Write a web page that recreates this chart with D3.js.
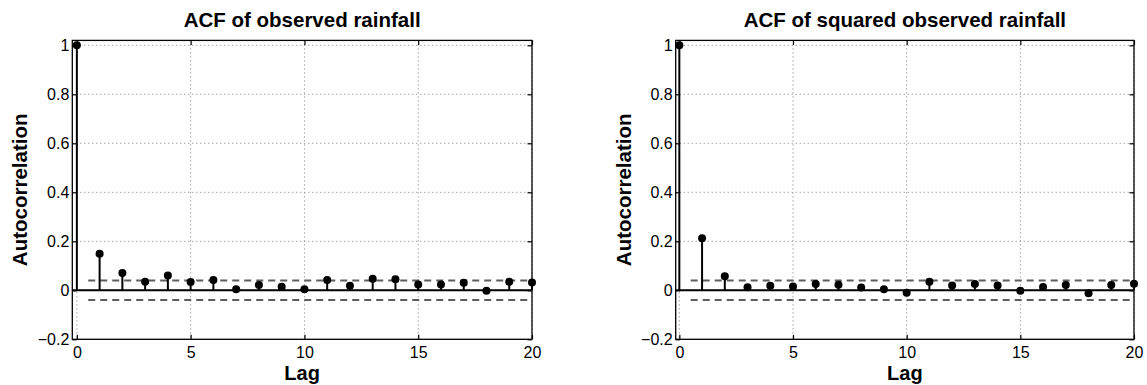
<!DOCTYPE html>
<html>
<head>
<meta charset="utf-8">
<script src="https://cdn.jsdelivr.net/npm/d3@7"></script>
<style>
  html, body { margin: 0; padding: 0; background: #fff; }
  svg { display: block; }
  text { font-family: "Liberation Sans", Arial, Helvetica, sans-serif; fill: #000; }
</style>
</head>
<body>
<svg id="chart" width="1147" height="385"></svg>
<script>
// ---- data ----
const lags = [0,1,2,3,4,5,6,7,8,9,10,11,12,13,14,15,16,17,18,19,20];
const acfRainfall = [1, 0.149, 0.071, 0.035, 0.060, 0.034, 0.042, 0.004, 0.022, 0.015, 0.004,
                     0.042, 0.019, 0.047, 0.045, 0.024, 0.024, 0.031, -0.002, 0.035, 0.032];
const acfSquaredRainfall = [1, 0.212, 0.057, 0.012, 0.019, 0.016, 0.026, 0.023, 0.011, 0.004, -0.010,
                     0.035, 0.020, 0.026, 0.020, -0.002, 0.013, 0.022, -0.012, 0.022, 0.027];
const confBound = 0.04;
const xTicks = [0, 5, 10, 15, 20];
const yTicks = [-0.2, 0, 0.2, 0.4, 0.6, 0.8, 1];
const titles = ["ACF of observed rainfall", "ACF of squared observed rainfall"];
const xLabel = "Lag";
const yLabel = "Autocorrelation";

// ---- layout ----
const panels = [
  { values: acfRainfall, title: titles[0], x0: 72.3, x1: 532, xmin: -0.2 },
  { values: acfSquaredRainfall, title: titles[1], x0: 675.7, x1: 1134, xmin: -0.16 }
];
const yTop = 40.4, yBot = 339.3;
const svg = d3.select("#chart");
const tickFmt = d => (d === 0 ? "0" : d === 1 ? "1" : d3.format(".1f")(d));

panels.forEach(p => {
  const x = d3.scaleLinear().domain([p.xmin, 20]).range([p.x0, p.x1]);
  const y = d3.scaleLinear().domain([-0.2, 1.02]).range([yBot, yTop]);
  const g = svg.append("g");

  // grid
  g.selectAll(".vgrid").data(xTicks).join("line")
    .attr("x1", d => x(d)).attr("x2", d => x(d))
    .attr("y1", yTop).attr("y2", yBot)
    .attr("stroke", "#7a7a7a").attr("stroke-width", 1).attr("stroke-dasharray", "1,3");
  g.selectAll(".hgrid").data(yTicks).join("line")
    .attr("x1", p.x0).attr("x2", p.x1)
    .attr("y1", d => y(d)).attr("y2", d => y(d))
    .attr("stroke", "#7a7a7a").attr("stroke-width", 1).attr("stroke-dasharray", "1,3");

  // confidence bounds
  [confBound, -confBound].forEach(c => {
    g.append("line")
      .attr("x1", x(0.5)).attr("x2", x(20))
      .attr("y1", y(c)).attr("y2", y(c))
      .attr("stroke", "#5e5e5e").attr("stroke-width", 2).attr("stroke-dasharray", "7,5");
  });

  // zero line
  g.append("line")
    .attr("x1", p.x0).attr("x2", p.x1)
    .attr("y1", y(0)).attr("y2", y(0))
    .attr("stroke", "#000").attr("stroke-width", 2);

  // stems
  g.selectAll(".stem").data(lags).join("line")
    .attr("x1", d => x(d)).attr("x2", d => x(d))
    .attr("y1", y(0)).attr("y2", (d, i) => y(p.values[i]))
    .attr("stroke", "#000").attr("stroke-width", 2);
  g.selectAll(".dot").data(lags).join("circle")
    .attr("cx", d => x(d)).attr("cy", (d, i) => y(p.values[i]))
    .attr("r", 4).attr("fill", "#000");

  // axes with inward ticks on all sides
  const tl = 4.5;
  const left = d3.axisLeft(y).tickValues(yTicks).tickFormat(tickFmt).tickSizeInner(-tl).tickSizeOuter(0).tickPadding(3);
  const right = d3.axisRight(y).tickValues(yTicks).tickFormat("").tickSizeInner(-tl).tickSizeOuter(0);
  const bottom = d3.axisBottom(x).tickValues(xTicks).tickFormat(d3.format("d")).tickSizeInner(-tl).tickSizeOuter(0).tickPadding(7);
  const top = d3.axisTop(x).tickValues(xTicks).tickFormat("").tickSizeInner(-tl).tickSizeOuter(0);

  const styleAxis = sel => {
    sel.select(".domain").remove();
    sel.selectAll(".tick line").attr("stroke", "#000").attr("stroke-width", 1.2);
    sel.selectAll(".tick text").style("font-size", "16px")
      .style("font-family", '"Liberation Sans", Arial, sans-serif').attr("fill", "#000");
  };
  g.append("g").attr("transform", `translate(${p.x0},0)`).call(left).call(styleAxis);
  g.append("g").attr("transform", `translate(${p.x1},0)`).call(right).call(styleAxis);
  g.append("g").attr("transform", `translate(0,${yBot})`).call(bottom).call(styleAxis);
  g.append("g").attr("transform", `translate(0,${yTop})`).call(top).call(styleAxis);

  // box
  g.append("rect")
    .attr("x", p.x0).attr("y", yTop)
    .attr("width", p.x1 - p.x0).attr("height", yBot - yTop)
    .attr("fill", "none").attr("stroke", "#000").attr("stroke-width", 1.3);

  // labels
  g.append("text")
    .attr("x", (p.x0 + p.x1) / 2).attr("y", 26.5)
    .attr("text-anchor", "middle")
    .style("font-size", "20.5px").style("font-weight", "bold")
    .text(p.title);
  g.append("text")
    .attr("x", (p.x0 + p.x1) / 2).attr("y", 379.5)
    .attr("text-anchor", "middle")
    .style("font-size", "20px").style("font-weight", "bold")
    .text(xLabel);
  g.append("text")
    .attr("transform", `translate(${p.x0 - 45},${(yTop + yBot) / 2}) rotate(-90)`)
    .attr("text-anchor", "middle")
    .style("font-size", "20.5px").style("font-weight", "bold")
    .text(yLabel);
});
</script>
</body>
</html>
